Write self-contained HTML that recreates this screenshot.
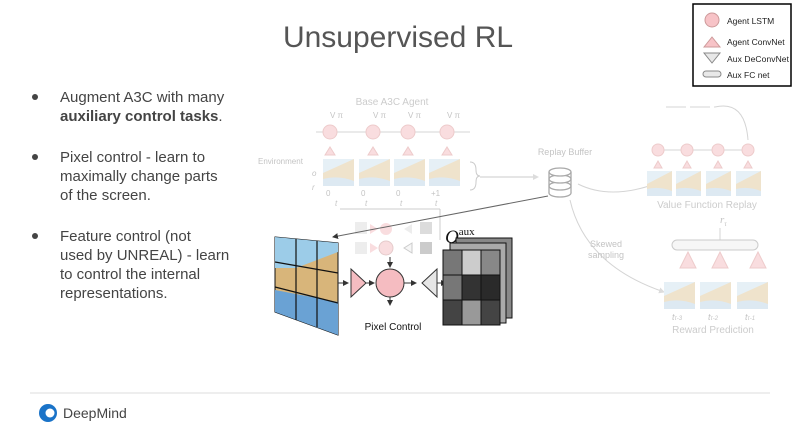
<!DOCTYPE html>
<html><head><style>
body{margin:0;width:797px;height:437px;background:#fff;overflow:hidden;font-family:"Liberation Sans",sans-serif;}
</style></head><body>
<svg width="797" height="437" xmlns="http://www.w3.org/2000/svg" font-family="Liberation Sans, sans-serif">
<defs>
<marker id="a" markerWidth="6" markerHeight="6" refX="5" refY="3" orient="auto"><path d="M0,0L6,3L0,6z" fill="#333"/></marker>
<marker id="g" markerWidth="6" markerHeight="6" refX="5" refY="3" orient="auto"><path d="M0,0L6,3L0,6z" fill="#bbb"/></marker>
<g id="fr"><rect width="31" height="27" fill="#cfe3ee"/><path d="M0,27L0,14L31,0L31,27z" fill="#e0c89a"/><path d="M0,27L0,20Q15,16 31,22L31,27z" fill="#bcd4e6"/></g>
<g id="fs"><rect width="25" height="25" fill="#cfe3ee"/><path d="M0,25L0,13L25,0L25,25z" fill="#e0c89a"/><path d="M0,25L0,18Q12,15 25,20L25,25z" fill="#bcd4e6"/></g>
</defs>
<text x="398" y="47" font-size="30" fill="#555" text-anchor="middle" font-weight="300">Unsupervised RL</text>
<rect x="693" y="4" width="98" height="82" fill="#fff" stroke="#000" stroke-width="1.5"/>
<circle cx="712" cy="20" r="7" fill="#f7c3c7" stroke="#c99"/><text x="727" y="24" font-size="8.5" fill="#222">Agent LSTM</text>
<path d="M704,47L712,37L720,47z" fill="#f7c3c7" stroke="#c99"/><text x="727" y="45" font-size="8.5" fill="#222">Agent ConvNet</text>
<path d="M704,53L720,53L712,63z" fill="#e8e8e8" stroke="#888"/><text x="727" y="62" font-size="8.5" fill="#222" textLength="62">Aux DeConvNet</text>
<rect x="703" y="71" width="18" height="6" rx="3" fill="#e8e8e8" stroke="#888"/><text x="727" y="78" font-size="8.5" fill="#222">Aux FC net</text>
<g font-size="15" fill="#444">
<circle cx="35" cy="97" r="3" fill="#444"/>
<text x="60" y="102">Augment A3C with many</text>
<text x="60" y="121" font-weight="bold">auxiliary control tasks<tspan font-weight="normal">.</tspan></text>
<circle cx="35" cy="157" r="3" fill="#444"/>
<text x="60" y="162">Pixel control - learn to</text>
<text x="60" y="181">maximally change parts</text>
<text x="60" y="200">of the screen.</text>
<circle cx="35" cy="236" r="3" fill="#444"/>
<text x="60" y="241">Feature control (not</text>
<text x="60" y="260">used by UNREAL) - learn</text>
<text x="60" y="279">to control the internal</text>
<text x="60" y="298">representations.</text>
</g>
<g opacity="0.5">
<text x="392" y="105" font-size="10" fill="#999" text-anchor="middle">Base A3C Agent</text>
<line x1="316" y1="132" x2="470" y2="132" stroke="#aaa"/>
<g fill="#f5bcc1" stroke="#d99">
<circle cx="330" cy="132" r="7"/><circle cx="373" cy="132" r="7"/><circle cx="408" cy="132" r="7"/><circle cx="447" cy="132" r="7"/>
<path d="M325,155L330,147L335,155z"/><path d="M368,155L373,147L378,155z"/><path d="M403,155L408,147L413,155z"/><path d="M442,155L447,147L452,155z"/>
</g>
<g font-size="8" fill="#888"><text x="330" y="118">V π</text><text x="373" y="118">V π</text><text x="408" y="118">V π</text><text x="447" y="118">V π</text>
<text x="258" y="164">Environment</text><text x="312" y="176" font-style="italic">o</text><text x="312" y="190" font-style="italic">r</text>
<text x="326" y="196">0</text><text x="361" y="196">0</text><text x="396" y="196">0</text><text x="431" y="196">+1</text>
<text x="335" y="206" font-style="italic">t</text><text x="365" y="206" font-style="italic">t</text><text x="400" y="206" font-style="italic">t</text><text x="435" y="206" font-style="italic">t</text></g>
<use href="#fr" x="323" y="159"/><use href="#fr" x="359" y="159"/><use href="#fr" x="394" y="159"/><use href="#fr" x="429" y="159"/>
<path d="M470,162Q476,162 476,170Q476,176 480,176Q476,176 476,182Q476,190 470,190" fill="none" stroke="#999"/>
<line x1="480" y1="177" x2="538" y2="177" stroke="#999" marker-end="url(#g)"/>
<text x="565" y="155" font-size="9" fill="#888" text-anchor="middle">Replay Buffer</text>
<g fill="#fff" stroke="#555" stroke-width="1.3"><ellipse cx="560" cy="193" rx="11" ry="4"/><rect x="549" y="178" width="22" height="15" stroke="none"/><ellipse cx="560" cy="186" rx="11" ry="4"/><ellipse cx="560" cy="179" rx="11" ry="4"/><ellipse cx="560" cy="172" rx="11" ry="4"/><line x1="549" y1="172" x2="549" y2="193"/><line x1="571" y1="172" x2="571" y2="193"/></g>
<path d="M578,184Q610,200 655,184" fill="none" stroke="#aaa" marker-end="url(#g)"/>
<path d="M570,200Q585,265 664,292" fill="none" stroke="#aaa" marker-end="url(#g)"/>
<text x="606" y="247" font-size="9" fill="#888" text-anchor="middle">Skewed</text><text x="606" y="258" font-size="9" fill="#888" text-anchor="middle">sampling</text>
<line x1="658" y1="150" x2="748" y2="150" stroke="#aaa"/>
<g fill="#f5bcc1" stroke="#d99"><circle cx="658" cy="150" r="6"/><circle cx="687" cy="150" r="6"/><circle cx="718" cy="150" r="6"/><circle cx="748" cy="150" r="6"/>
<path d="M654,168L658,161L662,168z"/><path d="M683,168L687,161L691,168z"/><path d="M714,168L718,161L722,168z"/><path d="M744,168L748,161L752,168z"/>
<path d="M680,268L688,252L696,268z"/><path d="M712,268L720,252L728,268z"/><path d="M750,268L758,252L766,268z"/></g>
<path d="M715,107Q745,100 748,140" fill="none" stroke="#aaa"/>
<line x1="666" y1="107" x2="715" y2="107" stroke="#aaa" stroke-dasharray="20 4"/>
<use href="#fs" x="647" y="171"/><use href="#fs" x="676" y="171"/><use href="#fs" x="706" y="171"/><use href="#fs" x="736" y="171"/>
<text x="707" y="208" font-size="10" fill="#999" text-anchor="middle">Value Function Replay</text>
<text x="720" y="223" font-size="11" fill="#888" font-style="italic" font-family="Liberation Serif">r<tspan font-size="7" dy="3">τ</tspan></text>
<line x1="720" y1="228" x2="720" y2="240" stroke="#aaa"/>
<rect x="672" y="240" width="86" height="10" rx="5" fill="#eee" stroke="#999"/>
<use href="#fr" x="664" y="282"/><use href="#fr" x="700" y="282"/><use href="#fr" x="737" y="282"/>
<g font-size="9" fill="#888" font-style="italic"><text x="672" y="320">t<tspan font-size="6">τ-3</tspan></text><text x="708" y="320">t<tspan font-size="6">τ-2</tspan></text><text x="745" y="320">t<tspan font-size="6">τ-1</tspan></text></g>
<text x="713" y="333" font-size="10" fill="#999" text-anchor="middle">Reward Prediction</text>
<rect x="355" y="222" width="12" height="12" fill="#ddd"/><rect x="420" y="222" width="12" height="12" fill="#bbb"/>
<circle cx="386" cy="229" r="6" fill="#f5bcc1"/><path d="M370,224L378,229L370,234z" fill="#f5bcc1"/><path d="M412,224L404,229L412,234z" fill="#ddd"/>
<rect x="355" y="242" width="12" height="12" fill="#ddd"/><rect x="420" y="242" width="12" height="12" fill="#999"/>
<circle cx="386" cy="248" r="7" fill="#f5bcc1" stroke="#c99"/><path d="M370,243L378,248L370,253z" fill="#f5bcc1"/><path d="M412,243L404,248L412,253z" fill="#eee" stroke="#999"/>
</g>
<line x1="340" y1="209" x2="440" y2="209" stroke="#ccc"/><line x1="440" y1="209" x2="440" y2="240" stroke="#ccc"/>
<path d="M548,196L333,237" stroke="#666" fill="none" marker-end="url(#a)"/>
<path d="M275,237L338,243L338,335L275,312z" fill="#d8b57a" stroke="#111"/>
<path d="M275,237L338,243L338,252L296,268L275,268z" fill="#9ccce8"/>
<path d="M275,290L338,302L338,335L275,312z" fill="#6aa2d4"/>
<g stroke="#111" stroke-width="1.2"><line x1="296" y1="239" x2="296" y2="320"/><line x1="317" y1="241" x2="317" y2="327"/><line x1="275" y1="262" x2="338" y2="273"/><line x1="275" y1="287" x2="338" y2="303"/></g>
<line x1="338" y1="283" x2="348" y2="283" stroke="#333" marker-end="url(#a)"/>
<path d="M351,269L366,283L351,297z" fill="#f5bcc1" stroke="#333"/>
<line x1="366" y1="283" x2="374" y2="283" stroke="#333" marker-end="url(#a)"/>
<circle cx="390" cy="283" r="14" fill="#f5bcc1" stroke="#333"/>
<line x1="390" y1="257" x2="390" y2="267" stroke="#333" marker-end="url(#a)"/>
<line x1="390" y1="297" x2="390" y2="305" stroke="#333" marker-end="url(#a)"/>
<line x1="404" y1="283" x2="416" y2="283" stroke="#333" marker-end="url(#a)"/>
<path d="M437,269L422,283L437,297z" fill="#e6e6e6" stroke="#333"/>
<line x1="437" y1="283" x2="446" y2="283" stroke="#333" marker-end="url(#a)"/>
<text x="393" y="330" font-size="10" fill="#111" text-anchor="middle">Pixel Control</text>
<text x="445" y="243" font-size="19" font-style="italic" font-family="Liberation Serif" fill="#111">Q<tspan font-size="11" font-style="normal" dy="-8">aux</tspan></text>
<g stroke="#111" stroke-width="1">
<rect x="456" y="238" width="56" height="80" fill="#888"/>
<rect x="450" y="243" width="56" height="80" fill="#aaa"/>
<g transform="translate(443,250)">
<rect x="0" y="0" width="19" height="25" fill="#777"/><rect x="19" y="0" width="19" height="25" fill="#ccc"/><rect x="38" y="0" width="19" height="25" fill="#888"/>
<rect x="0" y="25" width="19" height="25" fill="#777"/><rect x="19" y="25" width="19" height="25" fill="#333"/><rect x="38" y="25" width="19" height="25" fill="#2a2a2a"/>
<rect x="0" y="50" width="19" height="25" fill="#444"/><rect x="19" y="50" width="19" height="25" fill="#999"/><rect x="38" y="50" width="19" height="25" fill="#444"/></g>
</g>
<line x1="30" y1="393" x2="770" y2="393" stroke="#ddd"/>
<circle cx="48" cy="413" r="9" fill="#1a73c8"/><circle cx="50" cy="413" r="4.5" fill="#fff"/>
<text x="63" y="418" font-size="14" fill="#444">DeepMind</text>
</svg>
</body></html>
